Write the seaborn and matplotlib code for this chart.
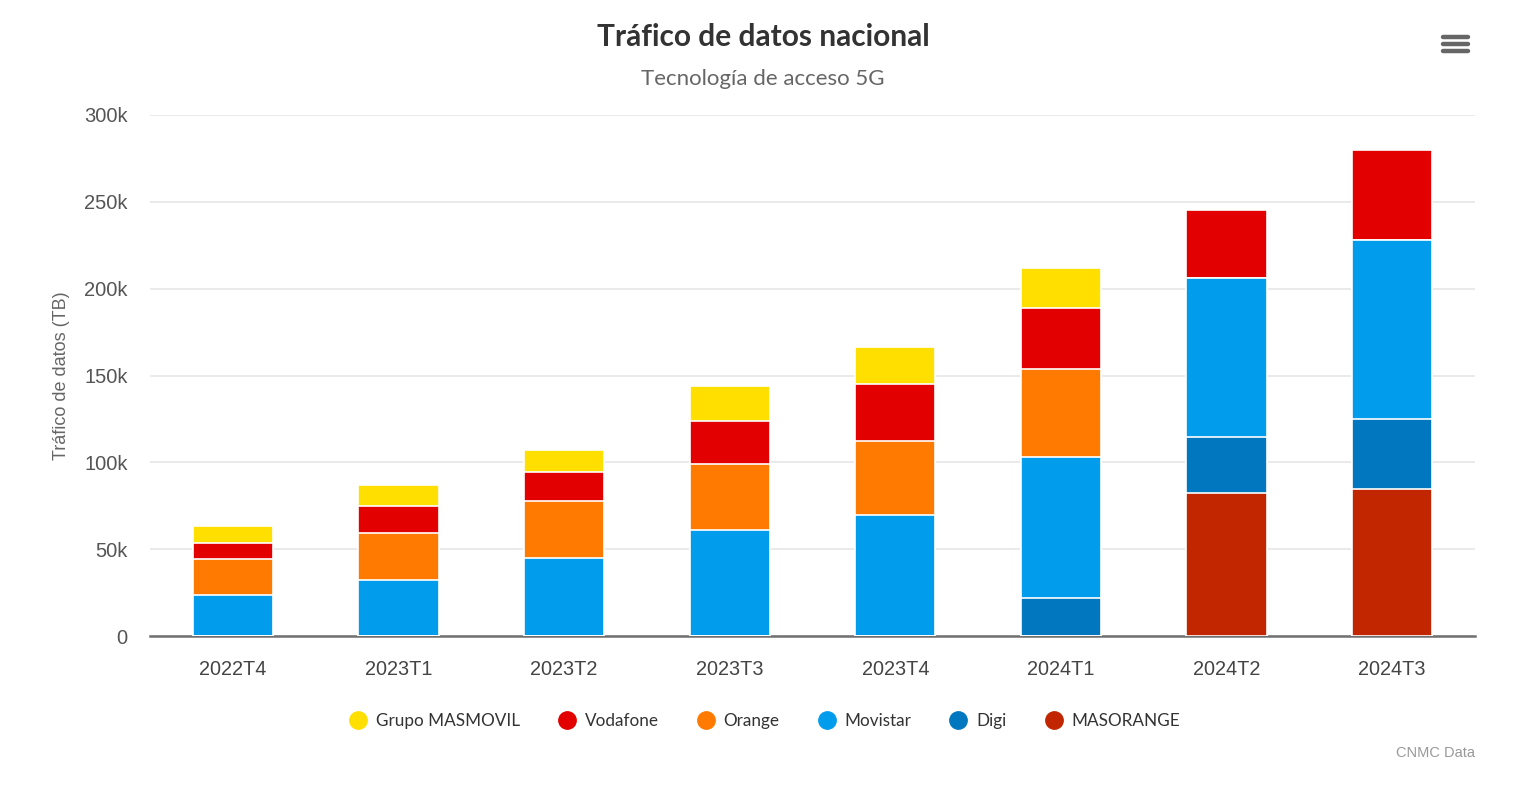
import numpy as np
import pandas as pd
import matplotlib
matplotlib.use('Agg')
import matplotlib.pyplot as plt
from matplotlib.lines import Line2D
import seaborn as sns

quarters = ['2022T4', '2023T1', '2023T2', '2023T3', '2023T4', '2024T1', '2024T2', '2024T3']

# values in TB, stack order bottom -> top
masorange = [0, 0, 0, 0, 0, 0, 82300, 84600]
digi = [0, 0, 0, 0, 0, 21900, 32300, 40300]
movistar = [23600, 32200, 44900, 61000, 69700, 81200, 91500, 103100]
orange = [20700, 27100, 32800, 38000, 42600, 50600, 0, 0]
vodafone = [9200, 15600, 16700, 24800, 32800, 35200, 39200, 51800]
masmovil = [9800, 12000, 12700, 20100, 21300, 23000, 0, 0]

series_names = ['MASORANGE', 'Digi', 'Movistar', 'Orange', 'Vodafone', 'Grupo MASMOVIL']
series_vals = [masorange, digi, movistar, orange, vodafone, masmovil]
series_colors = ['#C12600', '#0077BE', '#029CEC', '#FF7A00', '#E30000', '#FFDF00']

sns.set_theme(style='white')
plt.rcParams['font.family'] = ['Liberation Sans', 'DejaVu Sans']

fig, ax = plt.subplots(figsize=(15.26, 8.10), dpi=100)
fig.subplots_adjust(left=150/1526, right=1475/1526, top=1-115/810, bottom=1-636/810)

# cumulative totals, drawn tallest first so lower segments sit on top
cum = np.cumsum(np.array(series_vals), axis=0)
for i in range(len(series_names) - 1, -1, -1):
  df = pd.DataFrame({'quarter': quarters, 'value': cum[i]})
  sns.barplot(data=df, x='quarter', y='value', color=series_colors[i], width=0.485,
              edgecolor='white', linewidth=1.2, saturation=1, ax=ax, zorder=3)

ax.set_xlim(-0.5, len(quarters) - 0.5)
ax.set_ylim(0, 300000)
ax.set_yticks(np.arange(0, 300001, 50000))
ax.set_yticklabels(['0', '50k', '100k', '150k', '200k', '250k', '300k'])
ax.yaxis.grid(True, color='#e6e6e6', linewidth=1.2, zorder=0)
ax.set_axisbelow(True)
for s in ['top', 'right', 'left']:
  ax.spines[s].set_visible(False)
ax.spines['bottom'].set_color('#707070')
ax.spines['bottom'].set_linewidth(1.8)
ax.tick_params(axis='y', length=0, labelsize=14.5, labelcolor='#555555', pad=16)
ax.tick_params(axis='x', length=0, labelsize=14.3, labelcolor='#444444', pad=17.5)
ax.set_xlabel('')
ax.set_ylabel('Tráfico de datos (TB)', fontsize=13, color='#666666', labelpad=10)

fig.text(0.5, 1-37/810, 'Tráfico de datos nacional', ha='center', va='center',
         fontsize=21.5, fontweight='bold', color='#333333', family=['Lato', 'DejaVu Sans'])
fig.text(0.5, 1-79/810, 'Tecnología de acceso 5G', ha='center', va='center',
         fontsize=16, color='#666666', family=['Lato', 'DejaVu Sans'])
fig.text(1475/1526, 1-753/810, 'CNMC Data', ha='right', va='center',
         fontsize=10.5, color='#999999')

# menu icon
for yy in [37, 44, 51]:
  fig.add_artist(Line2D([1443/1526, 1468/1526], [1-yy/810, 1-yy/810],
                        color='#666666', linewidth=3.2, solid_capstyle='round'))

handles = [Line2D([], [], marker='o', linestyle='', markersize=12.5,
                  markerfacecolor=series_colors[i], markeredgecolor=series_colors[i])
           for i in range(len(series_names) - 1, -1, -1)]
labels = series_names[::-1]
fig.legend(handles, labels, loc='center', bbox_to_anchor=(763/1526, 1-721/810), ncol=6,
           frameon=False, handletextpad=0.35, columnspacing=2.05, handlelength=1.4,
           prop={'family': ['Lato', 'DejaVu Sans'], 'size': 12.3},
           labelcolor='#333333')

fig.savefig('out.png', dpi=100, facecolor='white')
